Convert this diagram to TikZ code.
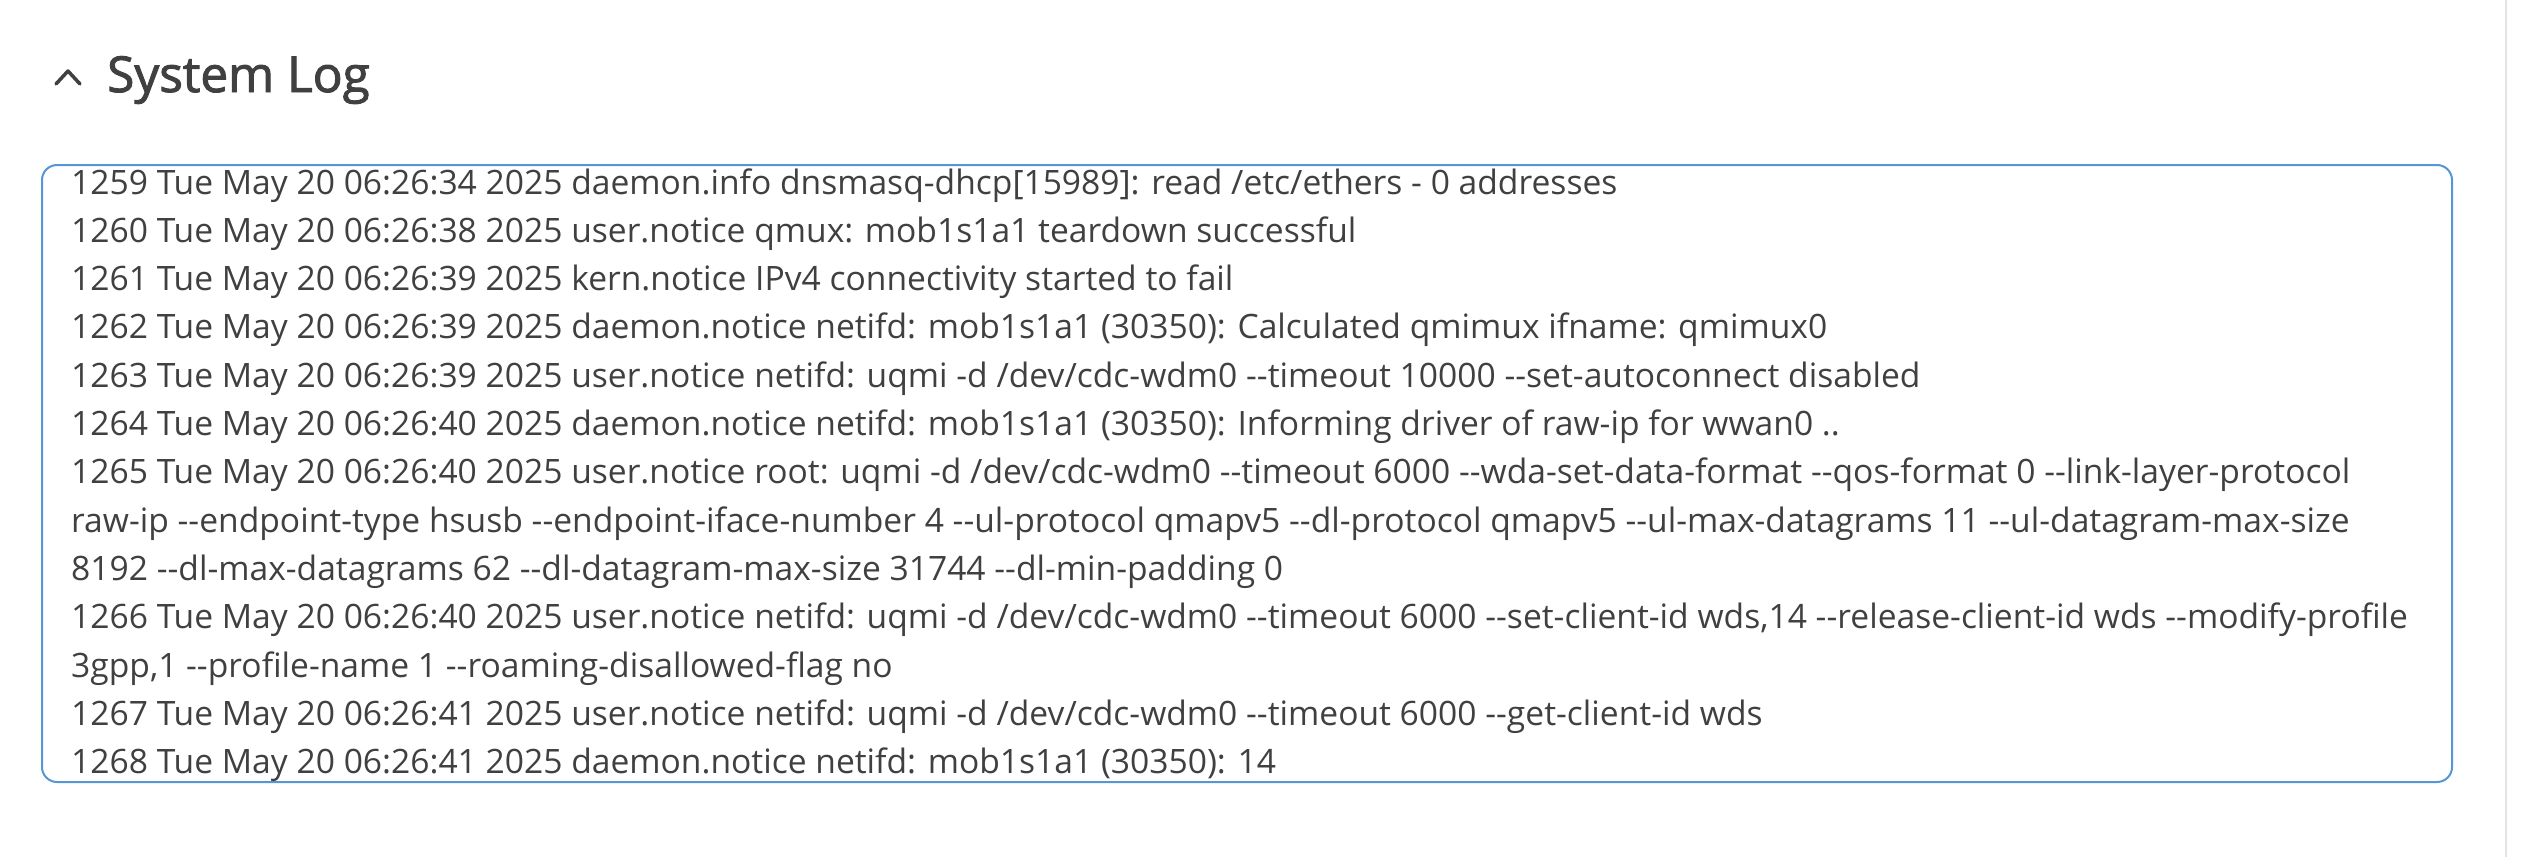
\documentclass[tikz,border=0pt]{standalone}
\usepackage{fontspec}
\newfontfamily\logfont{Open Sans}
\newfontfamily\headfont{Open Sans}[FakeBold=2]
\usepackage{tikz}
\definecolor{logtext}{RGB}{64,64,64}
\definecolor{logframe}{RGB}{86,150,215}
\definecolor{sidebar}{RGB}{228,228,228}

\begin{document}
\begin{tikzpicture}[x=1pt,y=-1pt,
    logline/.style={anchor=base west,inner sep=0pt,text=logtext,font=\logfont\fontsize{33.6}{40}\selectfont},
    heading/.style={anchor=base west,inner sep=0pt,text=logtext,font=\headfont\fontsize{49.5}{56}\selectfont}]
          \useasboundingbox (0,0) rectangle (2526,857);
          \fill[white] (0,0) rectangle (2526,857);
          \draw[sidebar,line width=2pt] (2506,0)--(2506,857);
          \draw[logtext,line width=3.5pt,line cap=round,line join=round] (56,84)--(68,71)--(80,84);
          \node[heading] (T) at (107,92) {System Log};
          \draw[logframe,line width=2pt,rounded corners=15pt] (42,165) rectangle (2452,782);
          \node[logline] (L1) at (71,194) {1259 Tue May 20 06:26:34 2025 daemon.info dnsmasq-dhcp[15989]: read /etc/ethers - 0 addresses};
          \node[logline] (L2) at (71,242.3) {1260 Tue May 20 06:26:38 2025 user.notice qmux: mob1s1a1 teardown successful};
          \node[logline] (L3) at (71,290.6) {1261 Tue May 20 06:26:39 2025 kern.notice IPv4 connectivity started to fail};
          \node[logline] (L4) at (71,338.9) {1262 Tue May 20 06:26:39 2025 daemon.notice netifd: mob1s1a1 (30350): Calculated qmimux ifname: qmimux0};
          \node[logline] (L5) at (71,387.2) {1263 Tue May 20 06:26:39 2025 user.notice netifd: uqmi -d /dev/cdc-wdm0 --timeout 10000 --set-autoconnect disabled};
          \node[logline] (L6) at (71,435.5) {1264 Tue May 20 06:26:40 2025 daemon.notice netifd: mob1s1a1 (30350): Informing driver of raw-ip for wwan0 ..};
          \node[logline] (L7) at (71,483.8) {1265 Tue May 20 06:26:40 2025 user.notice root: uqmi -d /dev/cdc-wdm0 --timeout 6000 --wda-set-data-format --qos-format 0 --link-layer-protocol};
          \node[logline] (L8) at (71,532.1) {raw-ip --endpoint-type hsusb --endpoint-iface-number 4 --ul-protocol qmapv5 --dl-protocol qmapv5 --ul-max-datagrams 11 --ul-datagram-max-size};
          \node[logline] (L9) at (71,580.4) {8192 --dl-max-datagrams 62 --dl-datagram-max-size 31744 --dl-min-padding 0};
          \node[logline] (L10) at (71,628.7) {1266 Tue May 20 06:26:40 2025 user.notice netifd: uqmi -d /dev/cdc-wdm0 --timeout 6000 --set-client-id wds,14 --release-client-id wds --modify-profile};
          \node[logline] (L11) at (71,677) {3gpp,1 --profile-name 1 --roaming-disallowed-flag no};
          \node[logline] (L12) at (71,725.3) {1267 Tue May 20 06:26:41 2025 user.notice netifd: uqmi -d /dev/cdc-wdm0 --timeout 6000 --get-client-id wds};
          \node[logline] (L13) at (71,773.6) {1268 Tue May 20 06:26:41 2025 daemon.notice netifd: mob1s1a1 (30350): 14};
        \end{tikzpicture}
\end{document}
